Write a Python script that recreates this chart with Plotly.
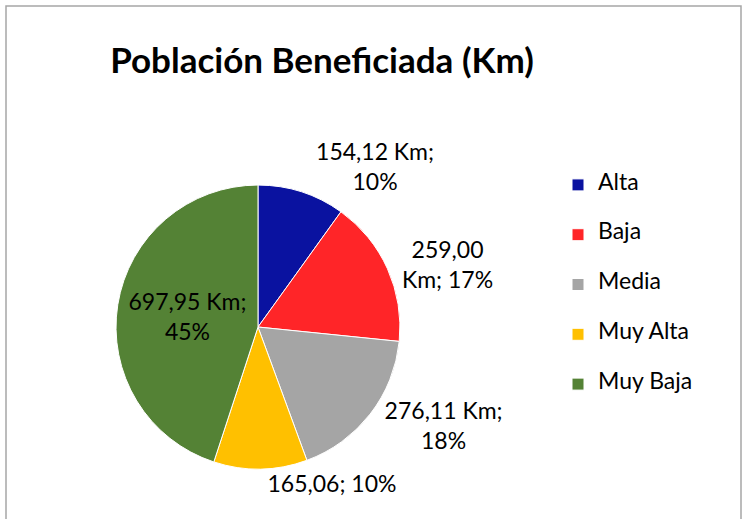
import plotly.graph_objects as go

categories = ["Alta", "Baja", "Media", "Muy Alta", "Muy Baja"]
values_km = [154.12, 259.00, 276.11, 165.06, 697.95]
# percentages as printed on the chart (Excel rounds them to sum to 100)
pct_labels = ["10%", "17%", "18%", "10%", "45%"]
colors = ["#0A12A0", "#FF2528", "#A5A5A5", "#FFC000", "#548235"]

templates = [
    "%{value:.2f} Km;<br>%{customdata}",
    "%{value:.2f}<br>Km; %{customdata}",
    "%{value:.2f} Km;<br>%{customdata}",
    "%{value:.2f}; %{customdata}",
    "%{value:.2f} Km;<br>%{customdata}",
]
positions = ["outside", "outside", "outside", "outside", "inside"]

FONT = "Lato, 'Open Sans', sans-serif"

# pad legend entries with blank lines so they sit ~50px apart
legend_names = [
    "<span style='font-size:4px'> </span><br><span style='font-size:23px'>%s</span><br><span style='font-size:4px'> </span>" % c
    for c in categories
]

fig = go.Figure()
fig.add_trace(
    go.Pie(
        labels=legend_names,
        values=values_km,
        customdata=pct_labels,
        texttemplate=templates,
        textposition=positions,
        textfont=dict(family=FONT, size=23, color="#000000"),
        marker=dict(colors=colors, line=dict(color="#ffffff", width=1)),
        sort=False,
        direction="clockwise",
        rotation=0,
        hoverinfo="label+value+percent",
        domain=dict(x=[0.1549, 0.534], y=[0.0963, 0.6435]),
    )
)

fig.add_shape(
    type="rect",
    xref="paper", yref="paper",
    x0=6 / 749, x1=741 / 749, y0=-0.2, y1=1 - 6 / 519,
    line=dict(color="#A6A6A6", width=1.5),
    fillcolor="rgba(0,0,0,0)",
)

fig.update_layout(
    width=749,
    height=519,
    margin=dict(l=0, r=0, t=0, b=0, autoexpand=False),
    paper_bgcolor="#ffffff",
    plot_bgcolor="#ffffff",
    separators=",.",
    font=dict(family=FONT, color="#000000"),
    title=dict(
        text="<b>Población Beneficiada (Km)</b>",
        x=322 / 749,
        xanchor="center",
        y=1 - 61 / 519,
        yanchor="middle",
        font=dict(family=FONT, size=35, color="#000000"),
    ),
    legend=dict(
        x=558 / 749,
        xanchor="left",
        y=1 - 155 / 519,
        yanchor="top",
        font=dict(family=FONT, size=12, color="#000000"),
        bgcolor="rgba(0,0,0,0)",
    ),
    showlegend=True,
)

# drop the default 8px body margin so the figure sits at the window's corner
fig.write_html(
    "out.html",
    config={"displayModeBar": False},
    post_script="document.body.style.margin='0';",
)
